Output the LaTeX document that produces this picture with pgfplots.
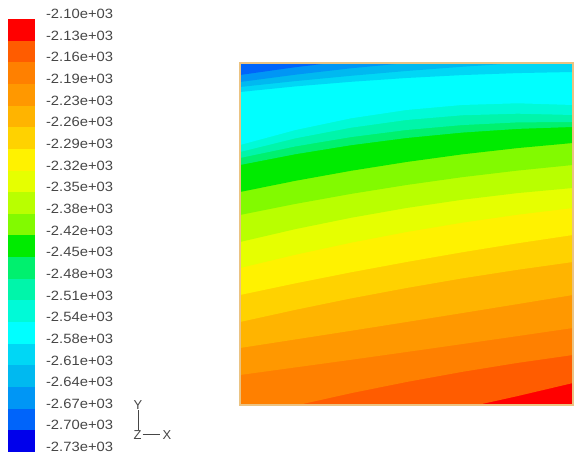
\documentclass[border=0pt]{standalone}
\usepackage{pgfplots}
\pgfplotsset{compat=1.18}
\usepackage{fontspec}
\setmainfont{Liberation Sans}
\definecolor{b0}{RGB}{255,0,0}
\definecolor{b1}{RGB}{255,92,0}
\definecolor{b2}{RGB}{255,128,0}
\definecolor{b3}{RGB}{255,152,0}
\definecolor{b4}{RGB}{255,180,0}
\definecolor{b5}{RGB}{255,210,0}
\definecolor{b6}{RGB}{255,242,0}
\definecolor{b7}{RGB}{230,255,0}
\definecolor{b8}{RGB}{185,255,0}
\definecolor{b9}{RGB}{130,250,0}
\definecolor{b10}{RGB}{0,235,0}
\definecolor{b11}{RGB}{0,240,110}
\definecolor{b12}{RGB}{0,245,170}
\definecolor{b13}{RGB}{0,250,215}
\definecolor{b14}{RGB}{0,255,255}
\definecolor{b15}{RGB}{0,215,245}
\definecolor{b16}{RGB}{0,185,240}
\definecolor{b17}{RGB}{0,150,245}
\definecolor{b18}{RGB}{0,100,250}
\definecolor{b19}{RGB}{0,0,235}
\definecolor{labelgray}{RGB}{70,70,70}
\definecolor{bordercol}{RGB}{235,195,130}
\begin{document}
\begin{tikzpicture}[x=1bp,y=1bp]
\path[use as bounding box] (0,0) rectangle (576,460);
% colour bar
\begin{axis}[at={(7.5bp,8bp)}, anchor=south west, scale only axis,
  width=27bp, height=441.7bp, xmin=0, xmax=1, ymin=0, ymax=20.4,
  axis line style={draw=none}, xtick=\empty,
  ytick={0.23,1.23,2.23,3.23,4.23,5.23,6.23,7.23,8.23,9.23,10.23,11.23,12.23,13.23,14.23,15.23,16.23,17.23,18.23,19.23,20.23},
  yticklabels={-2.73e+03,-2.70e+03,-2.67e+03,-2.64e+03,-2.61e+03,-2.58e+03,-2.54e+03,-2.51e+03,-2.48e+03,-2.45e+03,-2.42e+03,-2.38e+03,-2.35e+03,-2.32e+03,-2.29e+03,-2.26e+03,-2.23e+03,-2.19e+03,-2.16e+03,-2.13e+03,-2.10e+03},
  yticklabel pos=right, major tick length=0pt,
  yticklabel style={font=\fontsize{13.5}{14}\selectfont, text=labelgray, xscale=1.1, xshift=7bp},
  clip=false]
\addplot[fill=b19, draw=none] coordinates {(0,0) (1,0) (1,1) (0,1)};
\addplot[fill=b18, draw=none] coordinates {(0,1) (1,1) (1,2) (0,2)};
\addplot[fill=b17, draw=none] coordinates {(0,2) (1,2) (1,3) (0,3)};
\addplot[fill=b16, draw=none] coordinates {(0,3) (1,3) (1,4) (0,4)};
\addplot[fill=b15, draw=none] coordinates {(0,4) (1,4) (1,5) (0,5)};
\addplot[fill=b14, draw=none] coordinates {(0,5) (1,5) (1,6) (0,6)};
\addplot[fill=b13, draw=none] coordinates {(0,6) (1,6) (1,7) (0,7)};
\addplot[fill=b12, draw=none] coordinates {(0,7) (1,7) (1,8) (0,8)};
\addplot[fill=b11, draw=none] coordinates {(0,8) (1,8) (1,9) (0,9)};
\addplot[fill=b10, draw=none] coordinates {(0,9) (1,9) (1,10) (0,10)};
\addplot[fill=b9, draw=none] coordinates {(0,10) (1,10) (1,11) (0,11)};
\addplot[fill=b8, draw=none] coordinates {(0,11) (1,11) (1,12) (0,12)};
\addplot[fill=b7, draw=none] coordinates {(0,12) (1,12) (1,13) (0,13)};
\addplot[fill=b6, draw=none] coordinates {(0,13) (1,13) (1,14) (0,14)};
\addplot[fill=b5, draw=none] coordinates {(0,14) (1,14) (1,15) (0,15)};
\addplot[fill=b4, draw=none] coordinates {(0,15) (1,15) (1,16) (0,16)};
\addplot[fill=b3, draw=none] coordinates {(0,16) (1,16) (1,17) (0,17)};
\addplot[fill=b2, draw=none] coordinates {(0,17) (1,17) (1,18) (0,18)};
\addplot[fill=b1, draw=none] coordinates {(0,18) (1,18) (1,19) (0,19)};
\addplot[fill=b0, draw=none] coordinates {(0,19) (1,19) (1,20) (0,20)};
\end{axis}
% contour field: each band is the region above its contour line
\begin{axis}[at={(240bp,55bp)}, anchor=south west, scale only axis,
  width=333bp, height=342bp, xmin=0, xmax=333, ymin=0, ymax=342,
  xtick=\empty, ytick=\empty, axis on top,
  axis line style={draw=bordercol, line width=1.2bp}]
\addplot[fill=b0, draw=none] coordinates {(0,0) (333,0) (333,342) (0,342)};
\addplot[fill=b1, draw=none] coordinates {(0,-45) (55.5,-35.8) (111,-25.8) (166.5,-15) (222,-3.4) (277.5,8.9) (333,22) (333,400) (0,400)};
\addplot[fill=b2, draw=none] coordinates {(0,-14) (55.5,-0.6) (111,11.8) (166.5,23) (222,33.1) (277.5,42.1) (333,50) (333,400) (0,400)};
\addplot[fill=b3, draw=none] coordinates {(0,30) (55.5,37.6) (111,45.2) (166.5,53) (222,60.9) (277.5,68.9) (333,77) (333,400) (0,400)};
\addplot[fill=b4, draw=none] coordinates {(0,57) (55.5,65.6) (111,74.2) (166.5,83) (222,91.9) (277.5,100.9) (333,110) (333,400) (0,400)};
\addplot[fill=b5, draw=none] coordinates {(0,83) (55.5,95.2) (111,106.6) (166.5,117) (222,126.6) (277.5,135.2) (333,143) (333,400) (0,400)};
\addplot[fill=b6, draw=none] coordinates {(0,110) (55.5,121.7) (111,132.7) (166.5,143) (222,152.7) (277.5,161.7) (333,170) (333,400) (0,400)};
\addplot[fill=b7, draw=none] coordinates {(0,137) (55.5,150.3) (111,162.3) (166.5,173) (222,182.3) (277.5,190.3) (333,197) (333,400) (0,400)};
\addplot[fill=b8, draw=none] coordinates {(0,163) (55.5,175.9) (111,187.2) (166.5,197) (222,205.2) (277.5,211.9) (333,217) (333,400) (0,400)};
\addplot[fill=b9, draw=none] coordinates {(0,190) (55.5,201.1) (111,211.1) (166.5,220) (222,227.8) (277.5,234.4) (333,240) (333,400) (0,400)};
\addplot[fill=b10, draw=none] coordinates {(0,213) (55.5,224.2) (111,234.2) (166.5,243) (222,250.6) (277.5,256.9) (333,262) (333,400) (0,400)};
\addplot[fill=b11, draw=none] coordinates {(0,240) (55.5,250.8) (111,259.8) (166.5,267) (222,272.4) (277.5,276.1) (333,278) (333,400) (0,400)};
\addplot[fill=b12, draw=none] coordinates {(0,247) (55.5,258.6) (111,267.9) (166.5,275) (222,279.9) (277.5,282.6) (333,283) (333,400) (0,400)};
\addplot[fill=b13, draw=none] coordinates {(0,253) (55.5,266.7) (111,277.3) (166.5,285) (222,289.7) (277.5,291.3) (333,290) (333,400) (0,400)};
\addplot[fill=b14, draw=none] coordinates {(0,260) (55.5,275) (111,286.7) (166.5,295) (222,300) (277.5,301.7) (333,300) (333,400) (0,400)};
\addplot[fill=b15, draw=none] coordinates {(0,313) (55.5,318.6) (111,323.2) (166.5,327) (222,329.9) (277.5,331.9) (333,333) (333,400) (0,400)};
\addplot[fill=b16, draw=none] coordinates {(0,318) (55.5,323.9) (111,329.2) (166.5,334) (222,338.2) (277.5,341.9) (333,345) (333,400) (0,400)};
\addplot[fill=b17, draw=none] coordinates {(0,323) (55.5,330.3) (111,336.7) (166.5,342) (222,346.3) (277.5,349.7) (333,352) (333,400) (0,400)};
\addplot[fill=b18, draw=none] coordinates {(0,330) (55.5,337.8) (111,344.4) (166.5,350) (222,354.4) (277.5,357.8) (333,360) (333,400) (0,400)};
\end{axis}
% axis triad
\node[text=labelgray, font=\fontsize{13}{13}\selectfont] at (138,55) {Y};
\draw[labelgray, line width=0.9bp] (138,49.5) -- (138,30);
\draw[labelgray, line width=0.9bp] (142.5,26) -- (160,26);
\node[text=labelgray, font=\fontsize{13}{13}\selectfont] at (137.5,24.5) {Z};
\node[text=labelgray, font=\fontsize{13}{13}\selectfont] at (167,24.5) {X};
\end{tikzpicture}
\end{document}
